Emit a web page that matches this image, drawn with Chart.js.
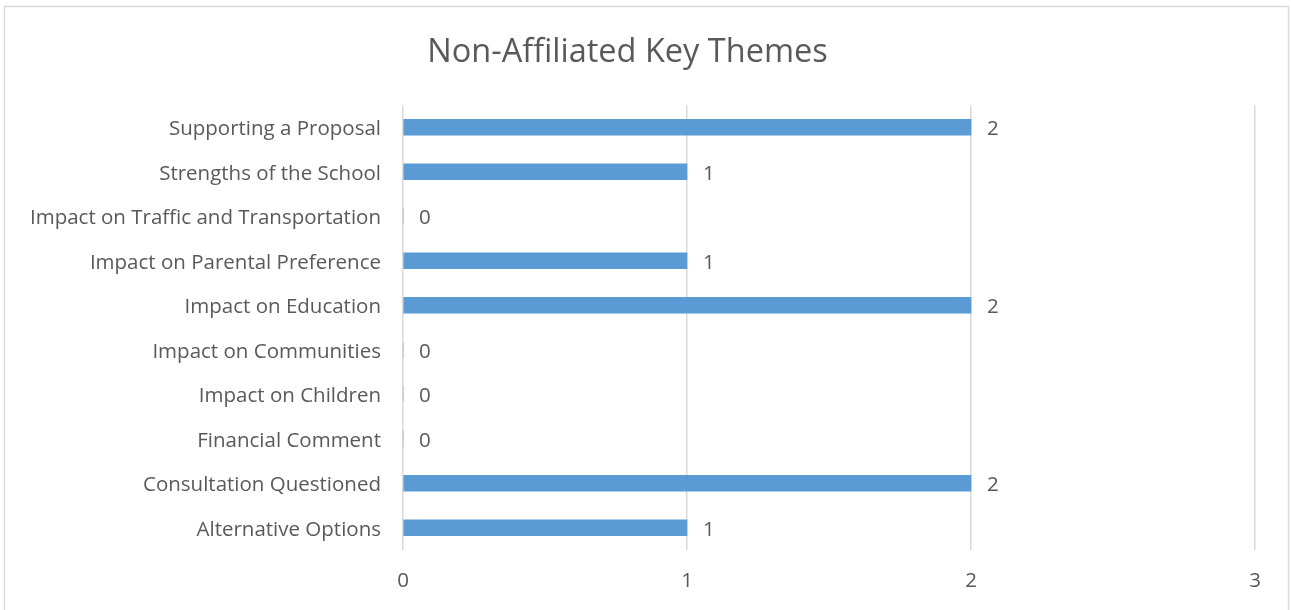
<!DOCTYPE html>
<html lang="en">
<head>
  <meta charset="UTF-8">
  <title>Non-Affiliated Key Themes</title>
  <script src="https://cdn.jsdelivr.net/npm/chart.js"></script>
  <style>
    html, body {
      margin: 0;
      padding: 0;
      background: #fff;
      overflow: hidden;
    }
    #chart-container {
      width: 1291px;
      height: 610px;
    }
  </style>
</head>
<body>
  <div id="chart-container">
    <canvas id="themesChart"></canvas>
  </div>

  <script>
    const themes = [
      'Supporting a Proposal',
      'Strengths of the School',
      'Impact on Traffic and Transportation',
      'Impact on Parental Preference',
      'Impact on Education',
      'Impact on Communities',
      'Impact on Children',
      'Financial Comment',
      'Consultation Questioned',
      'Alternative Options'
    ];
    const counts = [2, 1, 0, 1, 2, 0, 0, 0, 2, 1];
    const xTicks = [0, 1, 2, 3];

    const textColor = '#595959';
    const gridColor = '#d9d9d9';
    const fontFamily = '"Open Sans", Lato, sans-serif';
    const labelSize = 20.5;

    // frame round the whole chart
    const framePlugin = {
      id: 'frame',
      beforeDraw(chart) {
        const c = chart.ctx;
        c.save();
        c.strokeStyle = gridColor;
        c.lineWidth = 1.5;
        c.strokeRect(4.5, 6.5, 1284, 620);
        c.restore();
      }
    };

    // value labels at the end of each bar
    const valueLabels = {
      id: 'valueLabels',
      afterDatasetsDraw(chart) {
        const c = chart.ctx;
        const meta = chart.getDatasetMeta(0);
        c.save();
        c.fillStyle = textColor;
        c.font = labelSize + 'px ' + fontFamily;
        c.textAlign = 'left';
        c.textBaseline = 'middle';
        meta.data.forEach((bar, i) => {
          c.fillText(String(counts[i]), bar.x + 16, bar.y + 2);
        });
        c.restore();
      }
    };

    const ctx = document.getElementById('themesChart').getContext('2d');
    const themesChart = new Chart(ctx, {
      type: 'bar',
      data: {
        labels: themes,
        datasets: [{
          data: counts,
          backgroundColor: '#5b9bd5',
          barThickness: 16
        }]
      },
      options: {
        indexAxis: 'y',
        responsive: true,
        maintainAspectRatio: false,
        animation: false,
        layout: {
          padding: { top: 0, right: 36, bottom: 0, left: 0 }
        },
        plugins: {
          legend: { display: false },
          tooltip: { enabled: false },
          title: {
            display: true,
            text: 'Non-Affiliated Key Themes',
            color: textColor,
            font: { family: fontFamily, size: 32.5, weight: 'normal' },
            padding: { top: 33, bottom: 33 }
          }
        },
        scales: {
          x: {
            min: 0,
            max: 3,
            afterBuildTicks(scale) {
              scale.ticks = xTicks.map(v => ({ value: v }));
            },
            afterFit(scale) {
              scale.height = 60;
            },
            border: { display: false },
            grid: { color: gridColor, lineWidth: 1.5, drawTicks: false },
            ticks: {
              color: textColor,
              padding: 19,
              font: { family: fontFamily, size: labelSize }
            }
          },
          y: {
            afterFit(scale) {
              scale.width = 403;
            },
            border: { display: false },
            grid: { display: false, drawTicks: false },
            ticks: {
              color: textColor,
              padding: 22,
              labelOffset: 2,
              font: { family: fontFamily, size: labelSize }
            }
          }
        }
      },
      plugins: [framePlugin, valueLabels]
    });
  </script>
</body>
</html>
